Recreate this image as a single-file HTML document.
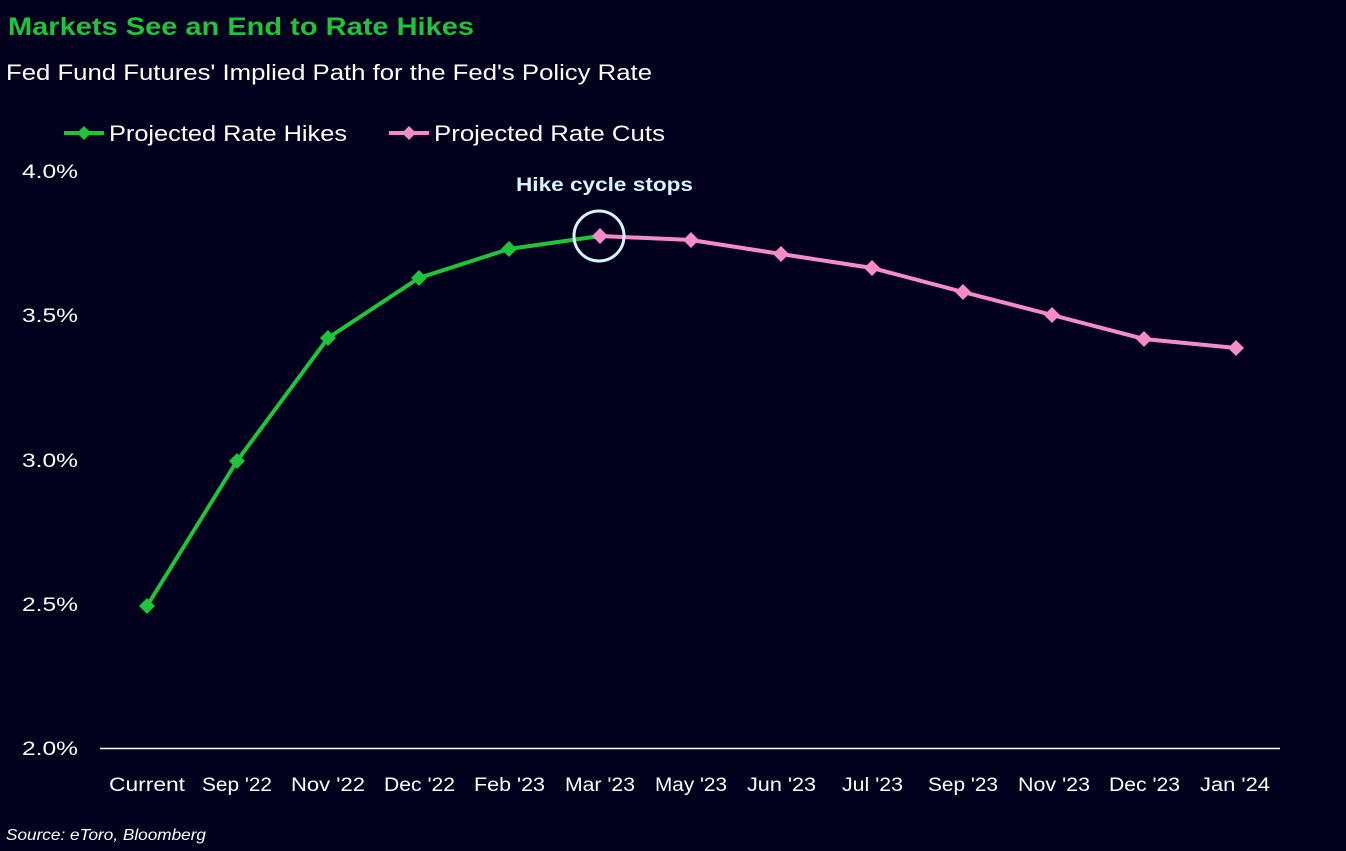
<!DOCTYPE html>
<html><head><style>
body{margin:0;background:#02011e;}
svg{display:block;font-family:"Liberation Sans",sans-serif;}
</style></head><body>
<svg width="1346" height="851" viewBox="0 0 1346 851">
<rect width="1346" height="851" fill="#02011e"/>
<text x="8" y="35" fill="#1fc43a" font-size="25" font-weight="bold" textLength="466" lengthAdjust="spacingAndGlyphs">Markets See an End to Rate Hikes</text>
<text x="6" y="80" fill="#fff" font-size="22" textLength="646" lengthAdjust="spacingAndGlyphs">Fed Fund Futures' Implied Path for the Fed's Policy Rate</text>
<line x1="64" y1="133" x2="104" y2="133" stroke="#1fc43a" stroke-width="4"/>
<path d="M84 126 L91 133 L84 140 L77 133Z" fill="#1fc43a"/>
<text x="109" y="141" fill="#fff" font-size="22" textLength="238" lengthAdjust="spacingAndGlyphs">Projected Rate Hikes</text>
<line x1="389" y1="133" x2="429" y2="133" stroke="#f48cc8" stroke-width="4"/>
<path d="M409 126 L416 133 L409 140 L402 133Z" fill="#f48cc8"/>
<text x="434" y="141" fill="#fff" font-size="22" textLength="231" lengthAdjust="spacingAndGlyphs">Projected Rate Cuts</text>
<g fill="#fff" font-size="19">
<text x="22" y="178" textLength="56" lengthAdjust="spacingAndGlyphs">4.0%</text><text x="22" y="322" textLength="56" lengthAdjust="spacingAndGlyphs">3.5%</text><text x="22" y="467" textLength="56" lengthAdjust="spacingAndGlyphs">3.0%</text><text x="22" y="611" textLength="56" lengthAdjust="spacingAndGlyphs">2.5%</text><text x="22" y="755" textLength="56" lengthAdjust="spacingAndGlyphs">2.0%</text>
</g>
<line x1="100" y1="748.5" x2="1280" y2="748.5" stroke="#fff" stroke-width="1.5"/>
<g fill="#fff" font-size="19">
<text x="109" y="791" textLength="76" lengthAdjust="spacingAndGlyphs">Current</text>
<text x="202" y="791" textLength="70" lengthAdjust="spacingAndGlyphs">Sep '22</text>
<text x="291" y="791" textLength="74" lengthAdjust="spacingAndGlyphs">Nov '22</text>
<text x="384" y="791" textLength="71" lengthAdjust="spacingAndGlyphs">Dec '22</text>
<text x="474" y="791" textLength="71" lengthAdjust="spacingAndGlyphs">Feb '23</text>
<text x="565" y="791" textLength="70" lengthAdjust="spacingAndGlyphs">Mar '23</text>
<text x="655" y="791" textLength="72" lengthAdjust="spacingAndGlyphs">May '23</text>
<text x="747" y="791" textLength="69" lengthAdjust="spacingAndGlyphs">Jun '23</text>
<text x="842" y="791" textLength="61" lengthAdjust="spacingAndGlyphs">Jul '23</text>
<text x="928" y="791" textLength="70" lengthAdjust="spacingAndGlyphs">Sep '23</text>
<text x="1018" y="791" textLength="72" lengthAdjust="spacingAndGlyphs">Nov '23</text>
<text x="1109" y="791" textLength="71" lengthAdjust="spacingAndGlyphs">Dec '23</text>
<text x="1200" y="791" textLength="70" lengthAdjust="spacingAndGlyphs">Jan '24</text>
</g>
<polyline points="147,606 237,461 328,338 419,278 509,249 600,236" fill="none" stroke="#1fc43a" stroke-width="4"/>
<polyline points="600,236 691,240 781,254 872,268 963,292 1052,315 1144,339 1236,348" fill="none" stroke="#f48cc8" stroke-width="4"/>
<g fill="#1fc43a">
<path d="M147 598l8 8-8 8-8-8z"/><path d="M237 453l8 8-8 8-8-8z"/><path d="M328 330l8 8-8 8-8-8z"/><path d="M419 270l8 8-8 8-8-8z"/><path d="M509 241l8 8-8 8-8-8z"/>
</g>
<g fill="#f48cc8">
<path d="M600 228l8 8-8 8-8-8z"/><path d="M691 232l8 8-8 8-8-8z"/><path d="M781 246l8 8-8 8-8-8z"/><path d="M872 260l8 8-8 8-8-8z"/><path d="M963 284l8 8-8 8-8-8z"/><path d="M1052 307l8 8-8 8-8-8z"/><path d="M1144 331l8 8-8 8-8-8z"/><path d="M1236 340l8 8-8 8-8-8z"/>
</g>
<circle cx="599" cy="236" r="25" fill="none" stroke="#d6f4ff" stroke-width="3"/>
<text x="516" y="191" fill="#d6f4ff" font-size="19" font-weight="bold" textLength="177" lengthAdjust="spacingAndGlyphs">Hike cycle stops</text>
<text x="6" y="840" fill="#fff" font-size="16" font-style="italic" textLength="200" lengthAdjust="spacingAndGlyphs">Source: eToro, Bloomberg</text>
</svg>
</body></html>
